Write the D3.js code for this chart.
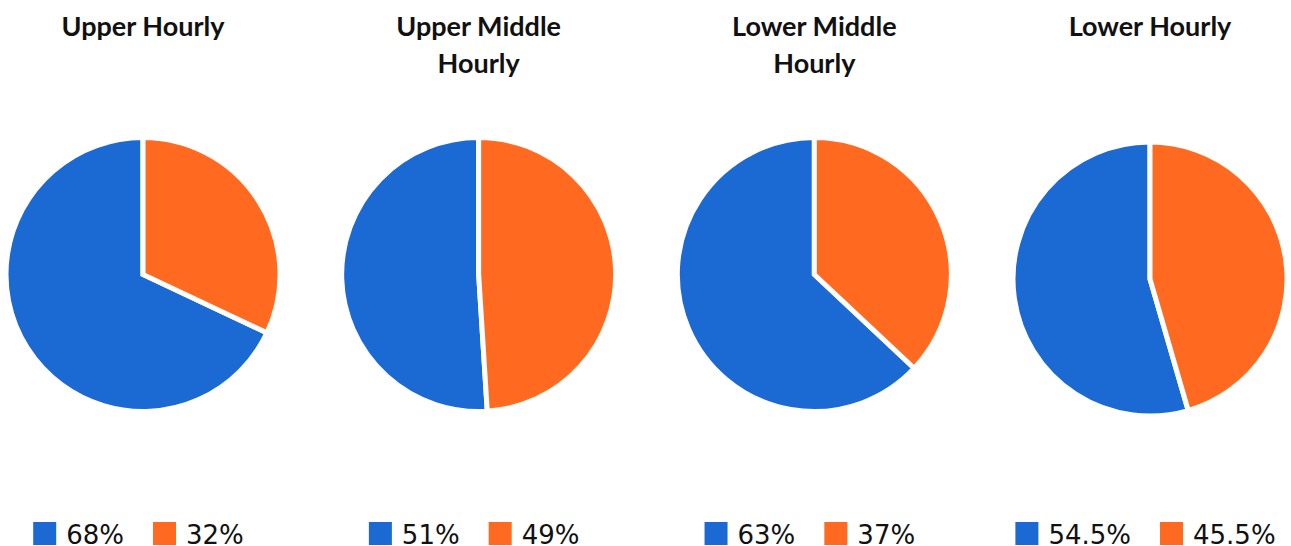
<!DOCTYPE html>
<html>
<head>
<meta charset="utf-8">
<script src="https://d3js.org/d3.v7.min.js"></script>
<style>
  * { margin: 0; padding: 0; }
  body { background: #fff; }
</style>
</head>
<body>
<div id="chart"></div>
<script>
// data
var titles = ["Upper Hourly", "Upper Middle Hourly", "Lower Middle Hourly", "Lower Hourly"];
var blueValues = [68, 51, 63, 54.5];
var orangeValues = [32, 49, 37, 45.5];
var seriesNames = ["blue", "orange"];

var width = 1291, height = 546;
var colors = {blue: "#1b69d3", orange: "#ff6a20"};

// layout
var panelX = d3.scaleLinear().domain([0, 3]).range([143, 1150]);
var pieCy = [274.5, 274.5, 274.5, 279];
var radius = 137;

var svg = d3.select("#chart").append("svg")
  .attr("width", width)
  .attr("height", height);

var pie = d3.pie()
  .sort(null)
  .value(function(d){ return d.value; })
  .startAngle(0)
  .endAngle(-2 * Math.PI);

var arc = d3.arc().innerRadius(0).outerRadius(radius);

titles.forEach(function(title, i){
  var cx = panelX(i);
  var g = svg.append("g");

  // title, wrapped
  var t = g.append("text")
    .attr("x", cx)
    .attr("y", 36)
    .attr("text-anchor", "middle")
    .style("font-family", "Lato")
    .style("font-weight", "bold")
    .style("font-size", "27px")
    .style("fill", "#111");
  var words = title.split(" ");
  var lines = [];
  var line = [];
  words.forEach(function(w){
    var test = line.concat([w]).join(" ");
    t.text(test);
    if (t.node().getComputedTextLength() > 200 && line.length) {
      lines.push(line.join(" "));
      line = [w];
    } else {
      line.push(w);
    }
  });
  lines.push(line.join(" "));
  t.text(null);
  lines.forEach(function(l, j){
    t.append("tspan").attr("x", cx).attr("y", 36 + j * 37).text(l);
  });

  // pie
  var data = [
    {key: "blue", value: blueValues[i]},
    {key: "orange", value: orangeValues[i]}
  ];
  g.append("g")
    .attr("transform", "translate(" + cx + "," + pieCy[i] + ")")
    .selectAll("path")
    .data(pie(data))
    .enter()
    .append("path")
    .attr("d", arc)
    .attr("fill", function(d){ return colors[d.data.key]; })
    .attr("stroke", "#fff")
    .attr("stroke-width", 5)
    .attr("stroke-linejoin", "miter");

  // legend
  var leg = g.append("g");
  var x = 0;
  data.forEach(function(d, k){
    leg.append("rect")
      .attr("x", x)
      .attr("y", 522)
      .attr("width", 23)
      .attr("height", 23)
      .attr("fill", colors[d.key]);
    var lt = leg.append("text")
      .attr("x", x + 33)
      .attr("y", 544)
      .style("font-family", "DejaVu Sans")
      .style("font-size", "26px")
      .style("fill", "#111")
      .text(d.value + "%");
    x += 33 + lt.node().getComputedTextLength() + 29;
  });
  var total = x - 29;
  leg.attr("transform", "translate(" + (cx - 4.5 - total / 2) + ",0)");
});
</script>
</body>
</html>
